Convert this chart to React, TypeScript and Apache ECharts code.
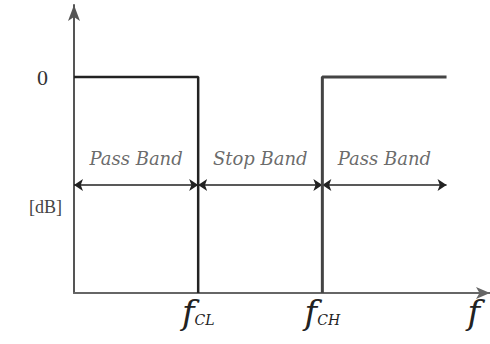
import React, { useEffect, useRef } from "react";
import * as echarts from "echarts";

// Frequency positions (normalised units): 0 = origin, cut-offs, end of drawn response
const cutoffs = [1, 2];
const cutoffSubs = ["CL", "CH"];
const axisEndLabelAt = 3.22;
const responseEnd = 3;
// Levels in dB
const passLevel = 0;
const stopLevel = -60;
const yTop = 20;
const unitLabelAt = -36;
// Band annotations
const bandEdges = [0, 1, 2, 3];
const bandNames = ["Pass Band", "Stop Band", "Pass Band"];
const bandArrowLevel = -30;
const bandTextLevel = -22.5;

const serif = "Liberation Serif";
const italicSerif = "DejaVu Serif";

export default function App() {
  const ref = useRef<HTMLDivElement>(null);
  useEffect(() => {
    if (!ref.current) return;
    const chart = echarts.init(ref.current, undefined, { renderer: "svg" });

    const lowPart = [
      [0, passLevel],
      [cutoffs[0], passLevel],
      [cutoffs[0], stopLevel],
    ];
    const highPart = [
      [cutoffs[1], stopLevel],
      [cutoffs[1], passLevel],
      [responseEnd, passLevel],
    ];
    const arrows = bandNames.map((_, i) => ({
      coords: [
        [bandEdges[i], bandArrowLevel],
        [bandEdges[i + 1], bandArrowLevel],
      ],
    }));
    const bandText = bandNames.map((n, i) => ({
      value: [(bandEdges[i] + bandEdges[i + 1]) / 2, bandTextLevel],
      name: n,
    }));

    chart.setOption({
      animation: false,
      textStyle: { fontFamily: serif },
      grid: { left: 74, right: -6, top: 5, bottom: 51, containLabel: false },
      xAxis: {
        type: "value",
        min: 0,
        max: 3.35,
        splitLine: { show: false },
        axisTick: { show: false },
        axisLine: {
          show: true,
          onZero: false,
          symbol: ["none", "arrow"],
          symbolSize: [9, 14],
          lineStyle: { color: "#666", width: 2 },
        },
        axisLabel: {
          customValues: [...cutoffs, axisEndLabelAt],
          margin: 2,
          fontFamily: serif,
          formatter: (v: number) => {
            const i = cutoffs.indexOf(v);
            if (i >= 0) return `{f|f}{s|${cutoffSubs[i]}}`;
            return "{f|f}";
          },
          rich: {
            f: { fontSize: 34, fontStyle: "italic", fontFamily: italicSerif, color: "#222" },
            s: {
              fontSize: 14,
              fontStyle: "italic",
              fontFamily: italicSerif,
              color: "#222",
              padding: [16, 0, 0, 0],
            },
          },
        },
      },
      yAxis: {
        type: "value",
        min: stopLevel,
        max: yTop,
        interval: 20,
        splitLine: { show: false },
        axisTick: { show: false },
        axisLine: {
          show: true,
          onZero: false,
          symbol: ["none", "arrow"],
          symbolSize: [9, 16],
          lineStyle: { color: "#555", width: 2 },
        },
        axisLabel: {
          customValues: [passLevel, unitLabelAt],
          margin: 12,
          fontFamily: serif,
          formatter: (v: number) => (v === passLevel ? "{z|0}" : "{u|[dB]}"),
          rich: {
            z: { fontSize: 22, fontFamily: serif, color: "#333", padding: [0, 14, 0, 0] },
            u: { fontSize: 18, fontFamily: serif, color: "#444" },
          },
        },
      },
      series: [
        {
          type: "line",
          data: lowPart,
          symbol: "none",
          lineStyle: { color: "#222", width: 2.5 },
        },
        {
          type: "line",
          data: highPart,
          symbol: "none",
          lineStyle: { color: "#444", width: 3 },
        },
        {
          type: "lines",
          coordinateSystem: "cartesian2d",
          data: arrows,
          symbol: ["arrow", "arrow"],
          symbolSize: 9,
          lineStyle: { color: "#222", width: 1.5, opacity: 1 },
        },
        {
          type: "scatter",
          data: bandText,
          symbolSize: 0,
          label: {
            show: true,
            position: "inside",
            formatter: (p: any) => p.name,
            fontSize: 18,
            fontStyle: "italic",
            fontFamily: italicSerif,
            color: "#444",
          },
        },
      ],
    });
    return () => chart.dispose();
  }, []);
  return (
    <div
      ref={ref}
      style={{ position: "absolute", left: 0, top: 0, width: 490, height: 344, background: "#fff" }}
    />
  );
}
